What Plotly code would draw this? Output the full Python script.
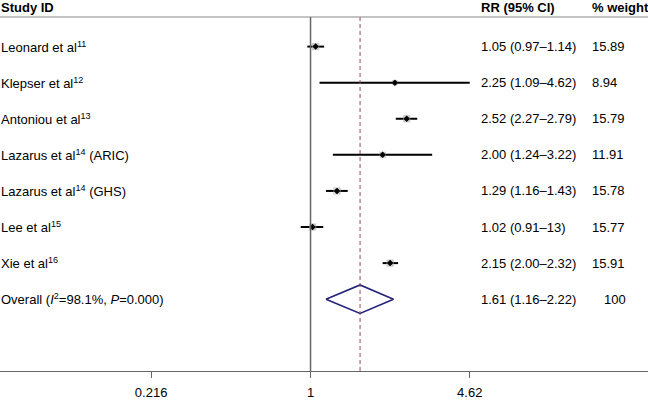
import plotly.graph_objects as go

studies = ["Leonard et al<sup>11</sup>", "Klepser et al<sup>12</sup>", "Antoniou et al<sup>13</sup>",
           "Lazarus et al<sup>14</sup> (ARIC)", "Lazarus et al<sup>14</sup> (GHS)", "Lee et al<sup>15</sup>",
           "Xie et al<sup>16</sup>"]
rr = [1.05, 2.25, 2.52, 2.00, 1.29, 1.02, 2.15]
lo = [0.97, 1.09, 2.27, 1.24, 1.16, 0.91, 2.00]
hi = [1.14, 4.62, 2.79, 3.22, 1.43, 1.13, 2.32]
rr_text = ["1.05 (0.97–1.14)", "2.25 (1.09–4.62)", "2.52 (2.27–2.79)", "2.00 (1.24–3.22)",
           "1.29 (1.16–1.43)", "1.02 (0.91–13)", "2.15 (2.00–2.32)"]
weights = ["15.89", "8.94", "15.79", "11.91", "15.78", "15.77", "15.91"]
weight_vals = [15.89, 8.94, 15.79, 11.91, 15.78, 15.77, 15.91]

overall_label = "Overall (<i>I</i><sup>2</sup>=98.1%, <i>P</i>=0.000)"
overall_rr, overall_lo, overall_hi = 1.61, 1.16, 2.22
overall_text = "1.61 (1.16–2.22)"
overall_weight = "100"

tick_vals = [0.216, 1, 4.62]
tick_text = ["0.216", "1", "4.62"]

W, H = 648, 400
FONT = "Liberation Sans, Arial, sans-serif"
rows = list(range(1, len(studies) + 1))
overall_row = len(studies) + 1

fig = go.Figure()

# CI lines
cx, cy = [], []
for r, a, b in zip(rows, lo, hi):
    cx += [a, b, None]
    cy += [r, r, None]
fig.add_trace(go.Scatter(x=cx, y=cy, mode="lines", line=dict(color="black", width=2),
                         hoverinfo="skip", showlegend=False))
# weight squares
fig.add_trace(go.Scatter(x=rr, y=rows, mode="markers",
                         marker=dict(symbol="square", color="#b5b5b5",
                                     size=[1.8 * w ** 0.5 for w in weight_vals], line=dict(width=0)),
                         showlegend=False))
# point estimates
fig.add_trace(go.Scatter(x=rr, y=rows, mode="markers",
                         marker=dict(symbol="diamond", color="black", size=5),
                         showlegend=False))
# overall diamond
h = 0.395
fig.add_trace(go.Scatter(x=[overall_lo, overall_rr, overall_hi, overall_rr, overall_lo],
                         y=[overall_row, overall_row - h, overall_row, overall_row + h, overall_row],
                         mode="lines", line=dict(color="#23237a", width=1.6),
                         showlegend=False))

# reference lines
fig.add_shape(type="line", xref="x", yref="paper", x0=1, x1=1, y0=0, y1=1,
              line=dict(color="#666666", width=1.5))
fig.add_shape(type="line", xref="x", yref="paper", x0=overall_rr, x1=overall_rr, y0=0, y1=1,
              line=dict(color="#9a4a5a", width=1, dash="4px,3px"))
fig.add_shape(type="line", xref="paper", yref="paper", x0=0, x1=1, y0=1, y1=1,
              line=dict(color="#888888", width=1))

# text columns
def txt(x_px, y, s, bold=False, yref="y"):
    fig.add_annotation(x=x_px / W, xref="paper", y=y, yref=yref, text=("<b>%s</b>" % s) if bold else s,
                       showarrow=False, xanchor="left", yanchor="middle", borderpad=0,
                       font=dict(family=FONT, size=13, color="black"))

for r, s, t, w in zip(rows, studies, rr_text, weights):
    txt(0, r, s)
    txt(480, r, t)
    txt(591, r, w)
txt(0, overall_row, overall_label)
txt(480, overall_row, overall_text)
txt(603, overall_row, overall_weight)

hy = 1 + (17 - 7.5) / 360
txt(0, hy, "Study ID", bold=True, yref="paper")
txt(480, hy, "RR (95% CI)", bold=True, yref="paper")
txt(591, hy, "% weight", bold=True, yref="paper")

fig.update_layout(
    width=W, height=H, margin=dict(l=0, r=0, t=17, b=22),
    plot_bgcolor="white", paper_bgcolor="white", showlegend=False,
    font=dict(family=FONT, size=13, color="black"),
    xaxis=dict(type="log", range=[-1.2965, 1.409], tickvals=tick_vals, ticktext=tick_text,
               showgrid=False, zeroline=False, showline=True, linecolor="#666666", linewidth=1,
               ticks="outside", ticklen=6, tickcolor="#666666", tickfont=dict(size=13, family=FONT),
               ticklabelstandoff=3, fixedrange=True),
    yaxis=dict(range=[9.99, 0.18], showgrid=False, zeroline=False, showticklabels=False,
               showline=False, fixedrange=True),
)

fig.write_html("out.html", config={"displayModeBar": False},
               post_script="document.body.style.margin='0';document.body.style.overflow='hidden';")
